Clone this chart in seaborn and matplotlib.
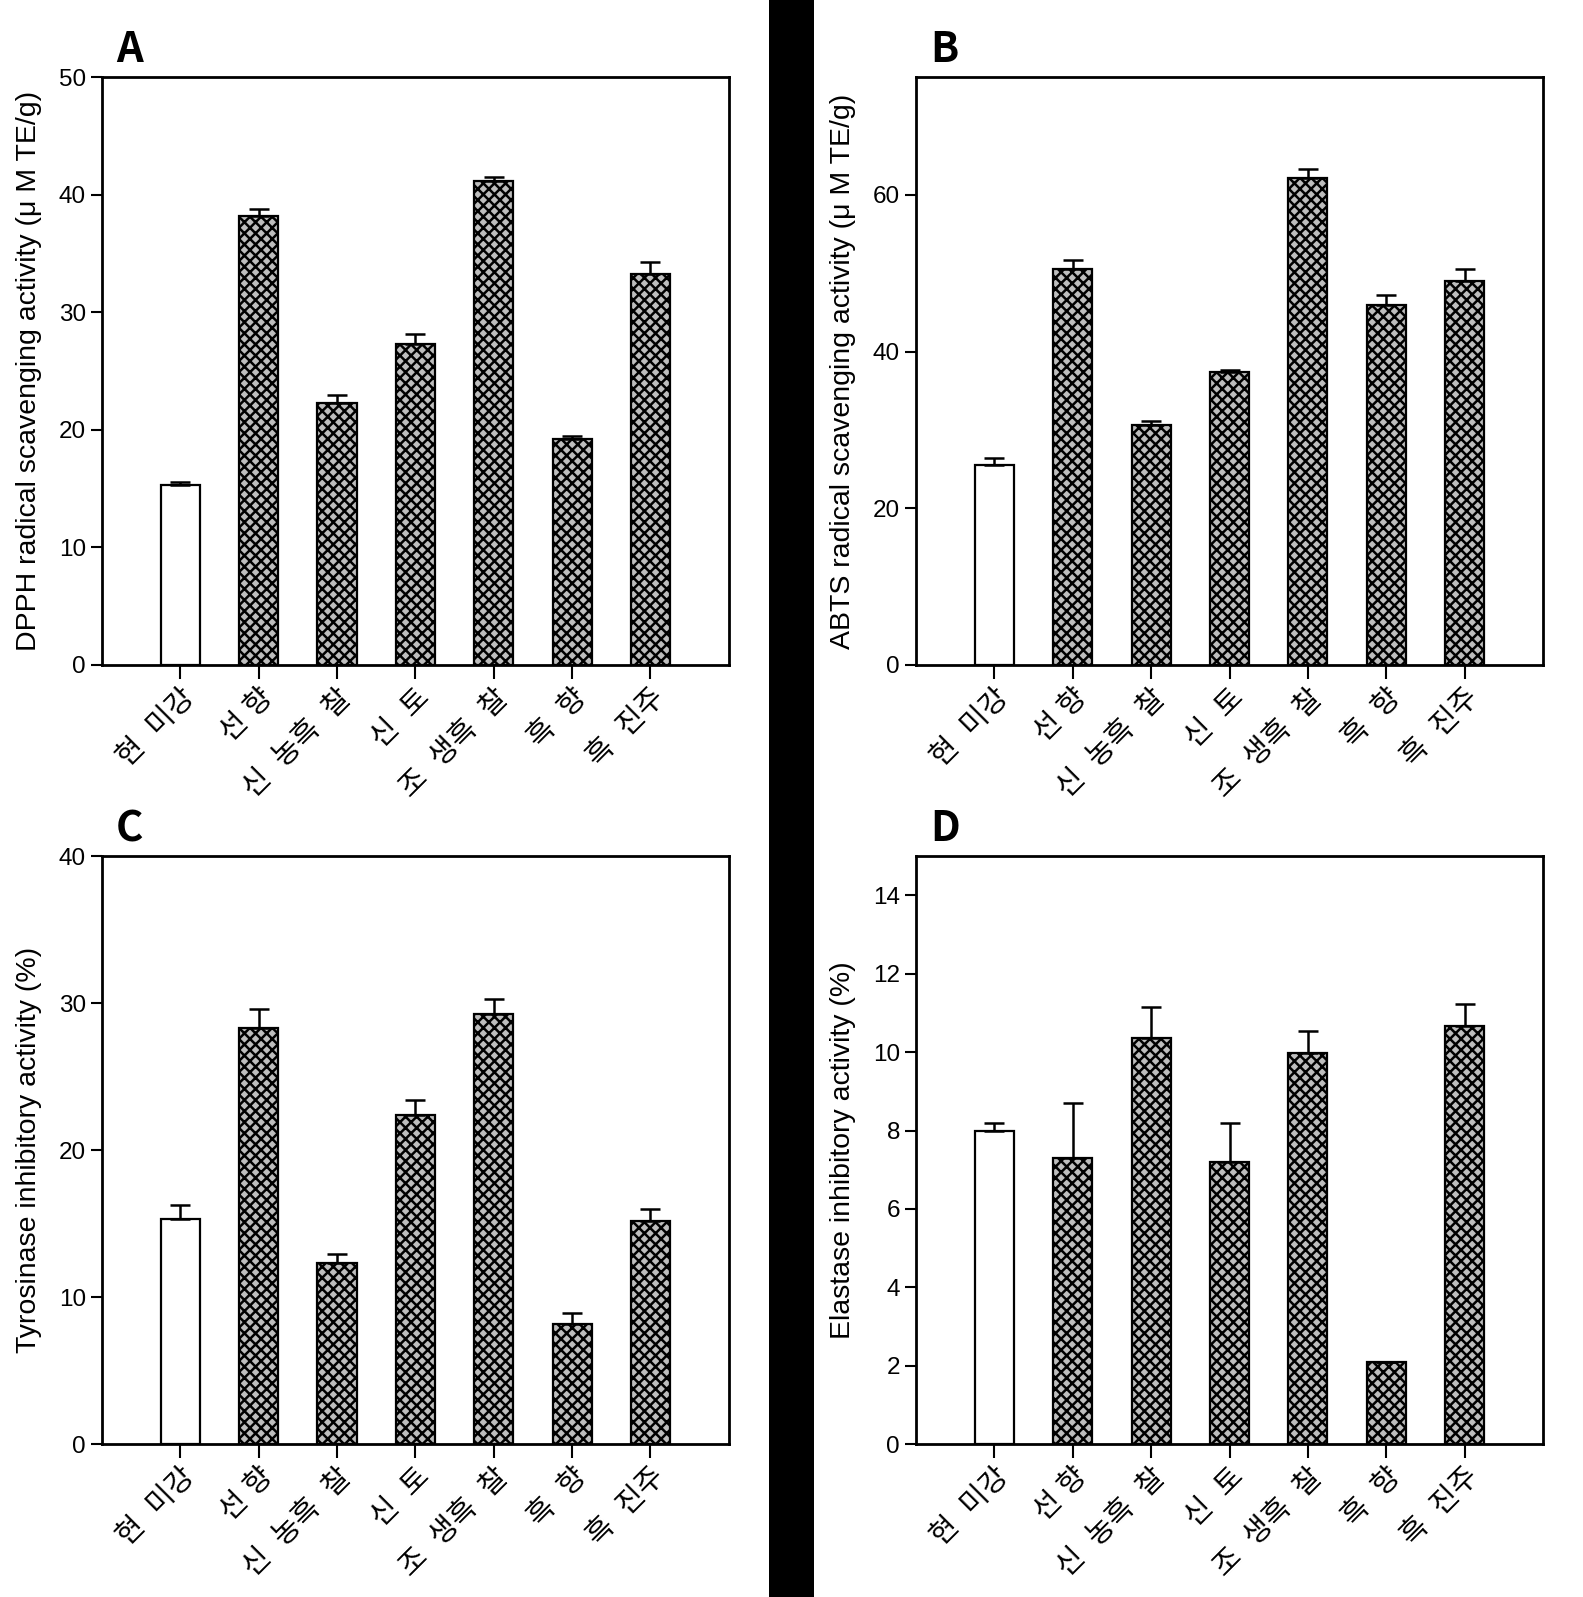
import matplotlib
matplotlib.use("Agg")
import matplotlib.pyplot as plt
import matplotlib.patches as mpatches
import seaborn as sns
import pandas as pd
import numpy as np

# cultivars (x tick labels)
cultivars = ["현  미강", "선 향", "신  농흑  찰", "신  토", "조  생흑  찰", "흑  향", "흑  진주"]

# A: DPPH (uM TE/g)
dpph = [15.3, 38.2, 22.3, 27.3, 41.2, 19.2, 33.3]
dpph_sd = [0.3, 0.6, 0.7, 0.9, 0.3, 0.3, 1.0]
# B: ABTS (uM TE/g)
abts = [25.5, 50.5, 30.6, 37.4, 62.2, 46.0, 49.0]
abts_sd = [0.9, 1.2, 0.5, 0.3, 1.1, 1.2, 1.5]
# C: tyrosinase inhibition (%)
tyro = [15.3, 28.3, 12.3, 22.4, 29.3, 8.2, 15.2]
tyro_sd = [1.0, 1.3, 0.6, 1.0, 1.0, 0.7, 0.8]
# D: elastase inhibition (%)
elas = [8.0, 7.3, 10.35, 7.2, 9.97, 2.1, 10.67]
elas_sd = [0.2, 1.4, 0.8, 1.0, 0.57, 0.0, 0.55]

panels = [
    ("A", dpph, dpph_sd, "DPPH radical scavenging activity (\u03bc M TE/g)", 50, [0, 10, 20, 30, 40, 50]),
    ("B", abts, abts_sd, "ABTS radical scavenging activity (\u03bc M TE/g)", 75, [0, 20, 40, 60]),
    ("C", tyro, tyro_sd, "Tyrosinase inhibitory activity (%)", 40, [0, 10, 20, 30, 40]),
    ("D", elas, elas_sd, "Elastase inhibitory activity (%)", 15, [0, 2, 4, 6, 8, 10, 12, 14]),
]

sns.set_style("ticks", {"axes.edgecolor": "black", "xtick.color": "black", "ytick.color": "black",
                        "text.color": "black", "axes.labelcolor": "black"})
plt.rcParams['font.family'] = ['Liberation Sans', 'Noto Sans CJK KR']
plt.rcParams['hatch.linewidth'] = 1.8
plt.rcParams['hatch.color'] = 'black'

fig = plt.figure(figsize=(15.83, 15.97), dpi=100)
# black divider between columns
fig.patches.append(mpatches.Rectangle((0.4858, 0), 0.0284, 1, transform=fig.transFigure,
                                      facecolor='black', edgecolor='none', zorder=0))

positions = [[0.0644, 0.5836, 0.396, 0.368], [0.5787, 0.5836, 0.396, 0.368],
             [0.0644, 0.0958, 0.396, 0.368], [0.5787, 0.0958, 0.396, 0.368]]

for (letter, vals, sd, ylabel, ymax, yticks), pos in zip(panels, positions):
    ax = fig.add_axes(pos)
    df = pd.DataFrame({"cultivar": cultivars, "value": vals})
    sns.barplot(data=df, x="cultivar", y="value", ax=ax, width=0.5, errorbar=None,
                color='#bdbdbd', edgecolor='black', linewidth=1.6, saturation=1)
    xs = []
    for i, p in enumerate(ax.patches):
        xs.append(p.get_x() + p.get_width() / 2)
        if i == 0:
            p.set_facecolor('white')
        else:
            p.set_hatch('xxx')
    ax.errorbar(xs, vals, yerr=[np.zeros(len(sd)), sd], fmt='none', ecolor='black',
                elinewidth=1.8, capsize=7, capthick=1.8, zorder=1)
    ax.set_xlim(-1, 7)
    ax.set_ylim(0, ymax)
    ax.set_yticks(yticks)
    ax.set_xlabel("")
    ax.set_ylabel(ylabel, fontsize=20.5, labelpad=12)
    ax.tick_params(axis='y', labelsize=17.5, length=8, width=1.5, direction='out')
    ax.tick_params(axis='x', labelsize=21, length=10, width=1.5, direction='out')
    plt.setp(ax.get_xticklabels(), rotation=45, ha='right', rotation_mode='anchor')
    for s in ax.spines.values():
        s.set_visible(True)
        s.set_linewidth(2)
        s.set_color('black')
    ax.text(0.022, 1.01, letter, transform=ax.transAxes, fontsize=30,
            family=['Noto Sans CJK KR'], fontweight='bold',
            va='bottom', ha='left')

plt.savefig("out.png", dpi=100)
